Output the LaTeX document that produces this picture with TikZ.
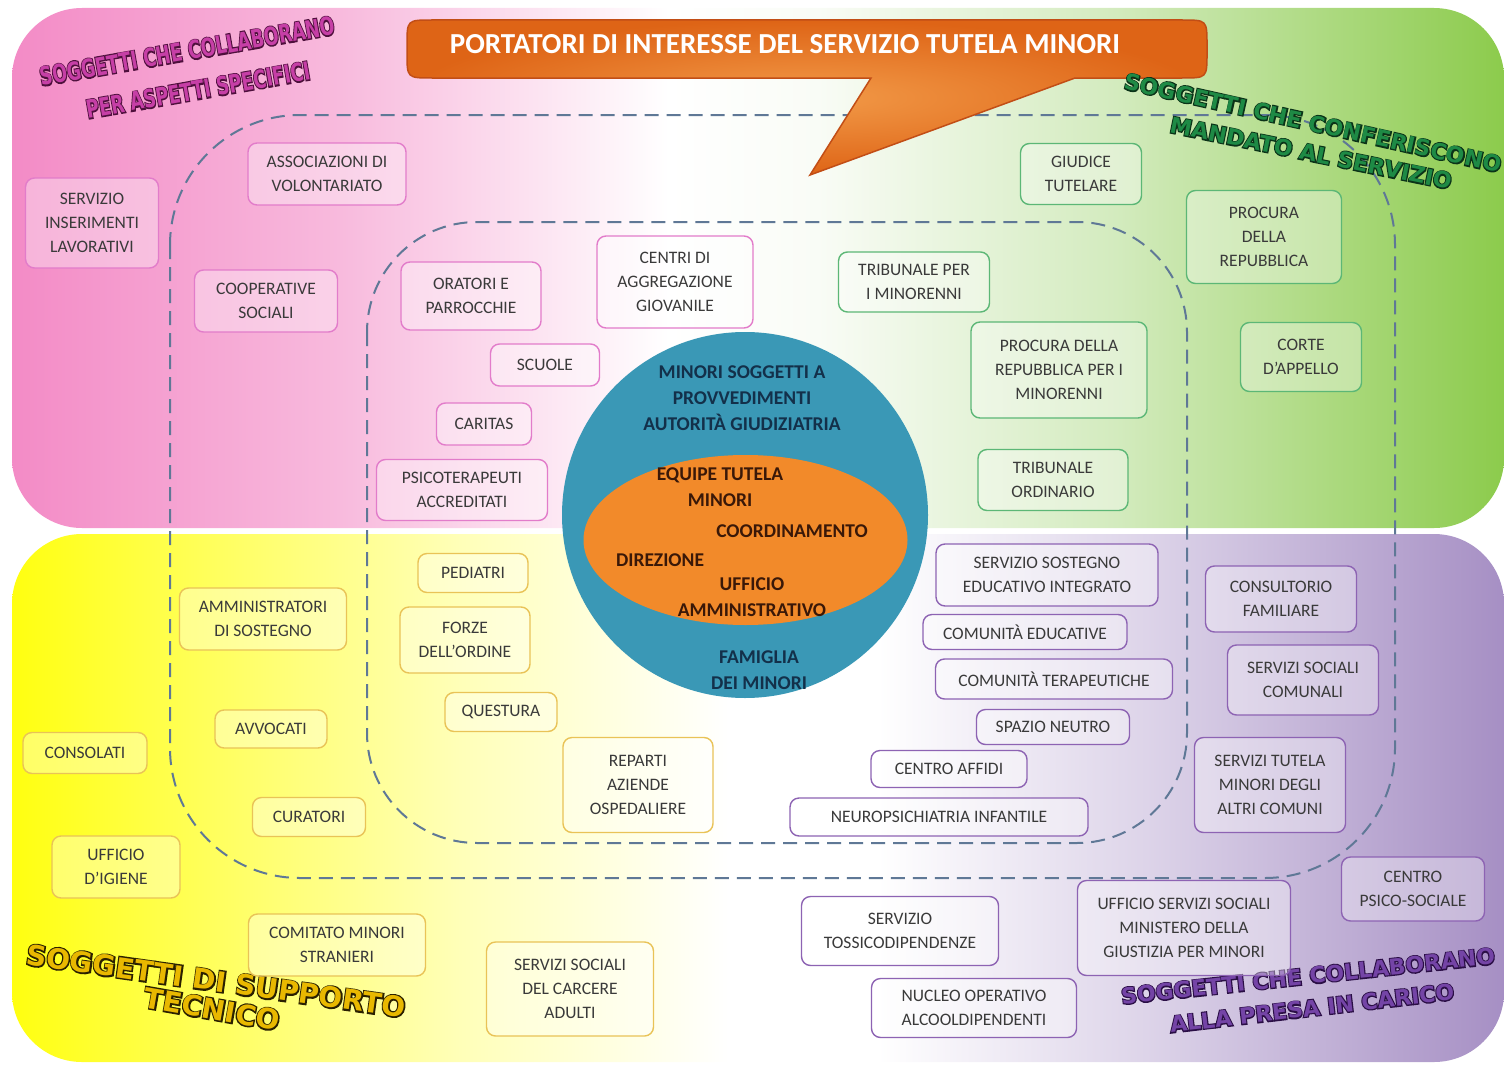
\documentclass[tikz,border=0pt]{standalone}
\usepackage{fontspec}
\setmainfont{Carlito}
\newfontfamily\wordart{DejaVu Sans}
\newfontfamily\wordedge{DejaVu Sans}[FakeBold=10]
\newcommand\wordoutline[3]{\rlap{\wordedge\bfseries\color{#1}#3}{\color{#2}#3}}
\definecolor{pinkA}{HTML}{F38BC6}
\definecolor{pinkB}{HTML}{F8BADD}
\definecolor{greenA}{HTML}{8CCB4C}
\definecolor{greenB}{HTML}{D3EBBE}
\definecolor{paleA}{HTML}{F9FCF6}
\definecolor{yellowA}{HTML}{FFFF10}
\definecolor{yellowC}{HTML}{FFFF60}
\definecolor{yellowB}{HTML}{FFFFB8}
\definecolor{violetA}{HTML}{A68FC4}
\definecolor{violetB}{HTML}{DDD4E9}
\definecolor{dashblue}{HTML}{5F7896}
\definecolor{tealring}{HTML}{3A98B6}
\definecolor{orangecore}{HTML}{F28A2A}
\definecolor{calloutin}{HTML}{F29A48}
\definecolor{calloutout}{HTML}{DE6416}
\definecolor{calloutedge}{HTML}{C24E16}
\definecolor{boxtext}{HTML}{3A3A3A}
\definecolor{pinkline}{HTML}{E27CCA}
\definecolor{greenline}{HTML}{5CB776}
\definecolor{yellowline}{HTML}{E9C357}
\definecolor{violetline}{HTML}{8D63B3}
\definecolor{ringtext}{HTML}{13304A}
\definecolor{coretext}{HTML}{3A1808}
\definecolor{pinkfill}{HTML}{C63FA6}
\definecolor{pinkedge}{HTML}{4E0F3C}
\definecolor{greenfill}{HTML}{1E8A45}
\definecolor{greenedge}{HTML}{0B3318}
\definecolor{yellowfill}{HTML}{E9B800}
\definecolor{yellowedge}{HTML}{2A2000}
\definecolor{violetfill}{HTML}{7444A6}
\definecolor{violetedge}{HTML}{2A0E45}
\pgfdeclarehorizontalshading{topband}{100bp}{color(0bp)=(pinkA); color(25bp)=(pinkA); color(36bp)=(pinkB); color(47bp)=(white); color(52bp)=(paleA); color(62bp)=(greenB); color(75bp)=(greenA); color(100bp)=(greenA)}
\pgfdeclarehorizontalshading{lowband}{100bp}{color(0bp)=(yellowA); color(25bp)=(yellowA); color(32bp)=(yellowC); color(40bp)=(yellowB); color(49bp)=(white); color(54bp)=(white); color(63bp)=(violetB); color(75bp)=(violetA); color(100bp)=(violetA)}
\begin{document}
\begin{tikzpicture}[x=1pt,y=-1pt,font=\fontsize{17.5}{24}\selectfont]
       \tikzstyle{band}=[rounded corners=70pt]
       \tikzstyle{zone}=[draw=dashblue, line width=2pt, dash pattern=on 14pt off 8pt]
       \tikzstyle{callout}=[draw=calloutedge, line width=1.5pt, inner color=calloutin, outer color=calloutout]
       \tikzstyle{title}=[text=white, font=\fontsize{29}{32}\selectfont\bfseries]
       \tikzstyle{box}=[rounded corners=9pt, line width=1.4pt, align=center, text=boxtext, inner sep=2pt, fill opacity=0.35, text opacity=1]
       \tikzstyle{pinknode}=[box, draw=pinkline, fill=white]
       \tikzstyle{greennode}=[box, draw=greenline, fill=white]
       \tikzstyle{yellownode}=[box, draw=yellowline, fill=white]
       \tikzstyle{violetnode}=[box, draw=violetline, fill=white]
       \tikzstyle{ringnode}=[text=ringtext, align=center, font=\fontsize{19.5}{26}\selectfont\bfseries]
       \tikzstyle{corenode}=[text=coretext, align=center, font=\fontsize{19.5}{26}\selectfont\bfseries]
       \tikzstyle{wordnode}=[font=\fontsize{22}{26}\selectfont\wordart\bfseries, inner sep=0pt]
       \useasboundingbox (0,0) rectangle (1504,1065);
       \shade[band, shading=topband] (12,8) rectangle (1504,528);
       \shade[band, shading=lowband] (12,534) rectangle (1504,1062);
       \draw[zone, rounded corners=130pt] (170,115) rectangle (1395,878);
       \draw[zone, rounded corners=110pt] (367,222) rectangle (1187,843);
       \fill[tealring] (745,515) circle (183);
       \fill[orangecore] (745.5,540) ellipse [x radius=162, y radius=85];
       \shadedraw[callout] (432,78) -- (871,78) -- (810,175) -- (1075,78) -- (1182,78) .. controls (1207,78) .. (1207,53) -- (1207,45) .. controls (1207,20) .. (1182,20) -- (432,20) .. controls (407,20) .. (407,45) -- (407,53) .. controls (407,78) .. (432,78) -- cycle;
       \node[title] (title) at (785,44) {PORTATORI DI INTERESSE DEL SERVIZIO TUTELA MINORI};
       \node[wordnode, rotate=10, xscale=0.7, font=\fontsize{25}{26}\selectfont\wordart\bfseries] (pinkone) at (187,51) {\wordoutline{pinkedge}{pinkfill}{SOGGETTI CHE COLLABORANO}};
       \node[wordnode, rotate=10, xscale=0.7, font=\fontsize{25}{26}\selectfont\wordart\bfseries] (pinktwo) at (198,90) {\wordoutline{pinkedge}{pinkfill}{PER ASPETTI SPECIFICI}};
       \node[wordnode, rotate=-12.6] (greenone) at (1313,123) {\wordoutline{greenedge}{greenfill}{SOGGETTI CHE CONFERISCONO}};
       \node[wordnode, rotate=-11.5] (greentwo) at (1311,153) {\wordoutline{greenedge}{greenfill}{MANDATO AL SERVIZIO}};
       \node[wordnode, rotate=-8, font=\fontsize{28}{30}\selectfont\wordart\bfseries] (yellowone) at (216,981) {\wordoutline{yellowedge}{yellowfill}{SOGGETTI DI SUPPORTO}};
       \node[wordnode, rotate=-10, font=\fontsize{28}{30}\selectfont\wordart\bfseries] (yellowtwo) at (212,1009) {\wordoutline{yellowedge}{yellowfill}{TECNICO}};
       \node[wordnode, rotate=6.2] (violetone) at (1308,976) {\wordoutline{violetedge}{violetfill}{SOGGETTI CHE COLLABORANO}};
       \node[wordnode, rotate=6.7] (violettwo) at (1312,1008) {\wordoutline{violetedge}{violetfill}{ALLA PRESA IN CARICO}};
       \node[ringnode] (minori) at (742,398) {MINORI SOGGETTI A\\PROVVEDIMENTI\\AUTORITÀ GIUDIZIATRIA};
       \node[corenode] (equipe) at (720,487) {EQUIPE TUTELA\\MINORI};
       \node[corenode] (coordinamento) at (792,531) {COORDINAMENTO};
       \node[corenode] (direzione) at (660,560) {DIREZIONE};
       \node[corenode] (ufficio) at (752,597) {UFFICIO\\AMMINISTRATIVO};
       \node[ringnode] (famiglia) at (759,670) {FAMIGLIA\\DEI MINORI};
       \node[pinknode, minimum width=133, minimum height=90] (inserimenti) at (92,223) {SERVIZIO\\INSERIMENTI\\LAVORATIVI};
       \node[pinknode, minimum width=158, minimum height=62] (volontariato) at (327,174) {ASSOCIAZIONI DI\\VOLONTARIATO};
       \node[pinknode, minimum width=143, minimum height=62] (cooperative) at (266,301) {COOPERATIVE\\SOCIALI};
       \node[pinknode, minimum width=140, minimum height=68] (oratori) at (471,296) {ORATORI E\\PARROCCHIE};
       \node[pinknode, minimum width=156, minimum height=92] (aggregazione) at (675,282) {CENTRI DI\\AGGREGAZIONE\\GIOVANILE};
       \node[pinknode, minimum width=109, minimum height=42] (scuole) at (545,365) {SCUOLE};
       \node[pinknode, minimum width=95, minimum height=42] (caritas) at (484,424) {CARITAS};
       \node[pinknode, minimum width=171, minimum height=61] (psicoterapeuti) at (462,490) {PSICOTERAPEUTI\\ACCREDITATI};
       \node[greennode, minimum width=121, minimum height=61] (giudice) at (1081,174) {GIUDICE\\TUTELARE};
       \node[greennode, minimum width=155, minimum height=93] (procura) at (1264,237) {PROCURA\\DELLA\\REPUBBLICA};
       \node[greennode, minimum width=151, minimum height=60] (tribminori) at (914,282) {TRIBUNALE PER\\I MINORENNI};
       \node[greennode, minimum width=176, minimum height=96] (procminori) at (1059,370) {PROCURA DELLA\\REPUBBLICA PER I\\MINORENNI};
       \node[greennode, minimum width=121, minimum height=69] (appello) at (1301,357) {CORTE\\D'APPELLO};
       \node[greennode, minimum width=150, minimum height=61] (ordinario) at (1053,480) {TRIBUNALE\\ORDINARIO};
       \node[yellownode, minimum width=167, minimum height=62] (amministratori) at (263,619) {AMMINISTRATORI\\DI SOSTEGNO};
       \node[yellownode, minimum width=110, minimum height=39] (pediatri) at (473,573) {PEDIATRI};
       \node[yellownode, minimum width=130, minimum height=66] (forze) at (465,640) {FORZE\\DELL'ORDINE};
       \node[yellownode, minimum width=112, minimum height=39] (questura) at (501,712) {QUESTURA};
       \node[yellownode, minimum width=112, minimum height=38] (avvocati) at (271,729) {AVVOCATI};
       \node[yellownode, minimum width=124, minimum height=41] (consolati) at (85,753) {CONSOLATI};
       \node[yellownode, minimum width=113, minimum height=39] (curatori) at (309,817) {CURATORI};
       \node[yellownode, minimum width=150, minimum height=95] (ospedaliere) at (638,785) {REPARTI\\AZIENDE\\OSPEDALIERE};
       \node[yellownode, minimum width=128, minimum height=62] (igiene) at (116,867) {UFFICIO\\D'IGIENE};
       \node[yellownode, minimum width=177, minimum height=62] (stranieri) at (337,945) {COMITATO MINORI\\STRANIERI};
       \node[yellownode, minimum width=167, minimum height=94] (carcere) at (570,989) {SERVIZI SOCIALI\\DEL CARCERE\\ADULTI};
       \node[violetnode, minimum width=222, minimum height=62] (sostegno) at (1047,575) {SERVIZIO SOSTEGNO\\EDUCATIVO INTEGRATO};
       \node[violetnode, minimum width=204, minimum height=35] (educative) at (1025,632) {COMUNITÀ EDUCATIVE};
       \node[violetnode, minimum width=237, minimum height=40] (terapeutiche) at (1054,679) {COMUNITÀ TERAPEUTICHE};
       \node[violetnode, minimum width=153, minimum height=35] (neutro) at (1053,727) {SPAZIO NEUTRO};
       \node[violetnode, minimum width=156, minimum height=37] (affidi) at (949,769) {CENTRO AFFIDI};
       \node[violetnode, minimum width=298, minimum height=38] (neuropsichiatria) at (939,817) {NEUROPSICHIATRIA INFANTILE};
       \node[violetnode, minimum width=151, minimum height=66] (consultorio) at (1281,599) {CONSULTORIO\\FAMILIARE};
       \node[violetnode, minimum width=151, minimum height=70] (comunali) at (1303,680) {SERVIZI SOCIALI\\COMUNALI};
       \node[violetnode, minimum width=151, minimum height=95] (altricomuni) at (1270,785) {SERVIZI TUTELA\\MINORI DEGLI\\ALTRI COMUNI};
       \node[violetnode, minimum width=143, minimum height=64] (psicosociale) at (1413,889) {CENTRO\\PSICO-SOCIALE};
       \node[violetnode, minimum width=213, minimum height=95] (ministero) at (1184,928) {UFFICIO SERVIZI SOCIALI\\MINISTERO DELLA\\GIUSTIZIA PER MINORI};
       \node[violetnode, minimum width=197, minimum height=69] (tossico) at (900,931) {SERVIZIO\\TOSSICODIPENDENZE};
       \node[violetnode, minimum width=205, minimum height=59] (nucleo) at (974,1008) {NUCLEO OPERATIVO\\ALCOOLDIPENDENTI};
\end{tikzpicture}
\end{document}
